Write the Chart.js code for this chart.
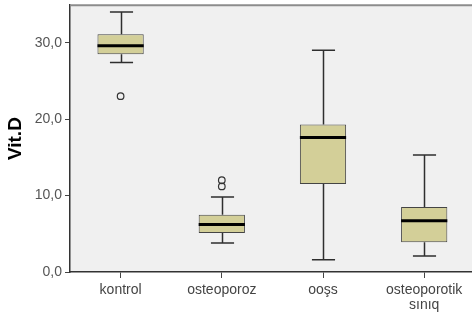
<!DOCTYPE html>
<html><head><meta charset="utf-8">
<script src="https://cdn.jsdelivr.net/npm/chart.js@4/dist/chart.umd.min.js"></script>
<style>
html,body{margin:0;padding:0;background:#fff;overflow:hidden;width:472px;height:313px}
#wrap{position:relative;width:480px;height:313px}
</style></head>
<body><div id="wrap"><canvas id="c" width="480" height="313"></canvas></div>
<script>
const categories = ['kontrol', 'osteoporoz', 'ooşs', ['osteoporotik', 'sınıq']];
const whiskerLow  = [27.4, 3.8, 1.6, 2.1];
const q1          = [28.5, 5.1, 11.5, 3.9];
const median      = [29.6, 6.2, 17.6, 6.7];
const q3          = [31.1, 7.5, 19.3, 8.5];
const whiskerHigh = [34.0, 9.8, 29.0, 15.3];
const outlierCategory = ['kontrol', 'osteoporoz', 'osteoporoz'];
const outlierValue    = [23.0, 12.0, 11.2];
const yTicks = [0, 10, 20, 30];

const FONT = "'Liberation Sans', Arial, sans-serif";

const boxPlugin = {
  id: 'boxplot',
  beforeDraw(chart) {
    const {ctx, chartArea: a} = chart;
    ctx.save();
    ctx.fillStyle = '#f0f0f0';
    ctx.fillRect(a.left, a.top, a.right - a.left, a.bottom - a.top);
    ctx.restore();
  },
  afterDatasetsDraw(chart) {
    const {ctx} = chart;
    const y = chart.scales.y;
    const meta = chart.getDatasetMeta(0);
    ctx.save();
    meta.data.forEach((bar, i) => {
      const x = Math.round(bar.x) + 0.5;
      const w = bar.width;
      const cap = w / 2;
      ctx.strokeStyle = '#2e2e2e';
      ctx.lineWidth = 1.5;
      ctx.beginPath();
      ctx.moveTo(x, y.getPixelForValue(whiskerHigh[i]));
      ctx.lineTo(x, y.getPixelForValue(q3[i]));
      ctx.moveTo(x, y.getPixelForValue(q1[i]));
      ctx.lineTo(x, y.getPixelForValue(whiskerLow[i]));
      ctx.moveTo(x - cap / 2, y.getPixelForValue(whiskerHigh[i]));
      ctx.lineTo(x + cap / 2, y.getPixelForValue(whiskerHigh[i]));
      ctx.moveTo(x - cap / 2, y.getPixelForValue(whiskerLow[i]));
      ctx.lineTo(x + cap / 2, y.getPixelForValue(whiskerLow[i]));
      ctx.stroke();
      ctx.strokeStyle = '#000';
      ctx.lineWidth = 3;
      ctx.beginPath();
      ctx.moveTo(bar.x - w / 2, y.getPixelForValue(median[i]));
      ctx.lineTo(bar.x + w / 2, y.getPixelForValue(median[i]));
      ctx.stroke();
    });
    ctx.restore();
  },
  afterDraw(chart) {
    const {ctx, chartArea: a} = chart;
    ctx.save();
    ctx.strokeStyle = '#8c8c8c';
    ctx.lineWidth = 2;
    ctx.beginPath();
    ctx.moveTo(a.left, a.top);
    ctx.lineTo(a.right, a.top);
    ctx.stroke();
    ctx.restore();
  }
};

new Chart(document.getElementById('c'), {
  type: 'bar',
  data: {
    labels: categories,
    datasets: [
      {
        type: 'bar',
        data: q1.map((v, i) => [v, q3[i]]),
        backgroundColor: '#d3cf98',
        borderColor: '#444',
        borderWidth: 1,
        borderSkipped: false,
        categoryPercentage: 1,
        barPercentage: 0.457,
        order: 1
      },
      {
        type: 'scatter',
        data: outlierValue.map((v, k) => ({x: outlierCategory[k], y: v})),
        pointStyle: 'circle',
        pointRadius: 3.3,
        borderColor: '#333',
        borderWidth: 1.2,
        backgroundColor: 'rgba(0,0,0,0)',
        order: 0
      }
    ]
  },
  options: {
    responsive: false,
    devicePixelRatio: 1,
    animation: false,
    layout: {padding: {top: 5, right: 1, left: 0, bottom: 0}},
    plugins: {legend: {display: false}, tooltip: {enabled: false}},
    scales: {
      x: {
        type: 'category',
        offset: true,
        afterFit(s) { s.height = 41; s.paddingLeft = 0; s.paddingRight = 0; },
        grid: {offset: false, drawOnChartArea: false, drawTicks: true, tickLength: 6, color: '#444'},
        border: {display: true, color: '#333', width: 1.5},
        ticks: {color: '#444', font: {family: FONT, size: 14, lineHeight: 1.1}, padding: 4, maxRotation: 0, autoSkip: false}
      },
      y: {
        min: 0,
        max: 34.9,
        afterFit(s) { s.width = 70; s.paddingTop = 0; s.paddingBottom = 0; },
        afterBuildTicks(s) { s.ticks = yTicks.map(v => ({value: v})); },
        grid: {drawOnChartArea: false, drawTicks: true, tickLength: 5, color: '#444'},
        border: {display: true, color: '#333', width: 1.5},
        ticks: {color: '#555', font: {family: FONT, size: 14}, padding: 3,
          callback: v => v.toFixed(1).replace('.', ',')},
        title: {display: true, text: 'Vit.D', color: '#000', font: {family: FONT, size: 19, weight: 'bold'}, padding: {top: 4, bottom: 4}}
      }
    }
  },
  plugins: [boxPlugin]
});
</script>
</body></html>
